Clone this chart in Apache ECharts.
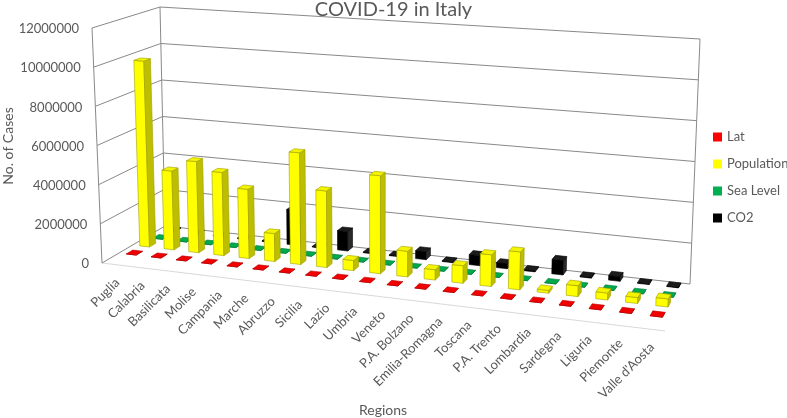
<!DOCTYPE html>
<html><head><meta charset="utf-8">
<script src="https://cdn.jsdelivr.net/npm/echarts/dist/echarts.min.js"></script>
<style>html,body{margin:0;padding:0;background:#fff}#c{width:787px;height:418px}</style>
</head><body><div id="c"></div>
<script>
// ---------------- data ----------------
const regions = ['Puglia','Calabria','Basilicata','Molise','Campania','Marche','Abruzzo','Sicilia','Lazio','Umbria','Veneto','P.A. Bolzano','Emilia-Romagna','Toscana','P.A. Trento','Lombardia','Sardegna','Liguria','Piemonte',"Valle d'Aosta"];
const lat        = [41.1, 38.9, 40.6, 41.6, 40.8, 43.6, 42.4, 38.1, 41.9, 43.1, 45.4, 46.5, 44.5, 43.8, 46.1, 45.5, 39.2, 44.4, 45.1, 45.7];
const population = [9780000, 4120000, 4740000, 4300000, 3560000, 1430000, 5680000, 3870000, 510000, 4900000, 1270000, 510000, 860000, 1550000, 1840000, 130000, 520000, 330000, 280000, 380000];
const seaLevel   = [5, 320, 819, 686, 17, 16, 714, 14, 21, 493, 1, 262, 54, 50, 194, 120, 4, 20, 239, 583];
const co2        = [30000, 30000, 30000, 40000, 40000, 1840000, 30000, 1010000, 40000, 40000, 410000, 40000, 510000, 250000, 60000, 720000, 50000, 230000, 30000, 30000];
const yTicks = [0, 2000000, 4000000, 6000000, 8000000, 10000000, 12000000];
const seriesNames = ['Lat', 'Population', 'Sea Level', 'CO2'];

// ---------------- layout / style ----------------
const floorQuad = [[102,263],[665,331],[690,284],[165,226]]; // front-left, front-right, back-right, back-left
const topQuad   = [[92,28],[675,66],[700,39],[160,7]];
const rowDepth = [0.305, 0.516, 0.727, 0.938];
const barDepth = 0.1;
const barWidthFrac = 0.4;
const palette = [
  {base:'#FF0000', side:'#C00000', top:'#F20000', stroke:'#B00000'},
  {base:'#FFFF00', side:'#BEBE00', top:'#F4F400', stroke:'#A0A000'},
  {base:'#00B050', side:'#00803A', top:'#00A84C', stroke:'#007A38'},
  {base:'#000000', side:'#2A2A2A', top:'#1C1C1C', stroke:'#000000'}
];
const FONT = 'Lato, "Open Sans", sans-serif';
const TXT = '#595959';

function makeH(p0, p1, p2, p3) {
  const dx1 = p1[0]-p2[0], dx2 = p3[0]-p2[0], dx3 = p0[0]-p1[0]+p2[0]-p3[0];
  const dy1 = p1[1]-p2[1], dy2 = p3[1]-p2[1], dy3 = p0[1]-p1[1]+p2[1]-p3[1];
  const den = dx1*dy2 - dx2*dy1;
  const g = (dx3*dy2 - dx2*dy3)/den, h = (dx1*dy3 - dx3*dy1)/den;
  const a = p1[0]-p0[0]+g*p1[0], b = p3[0]-p0[0]+h*p3[0], c = p0[0];
  const d = p1[1]-p0[1]+g*p1[1], e = p3[1]-p0[1]+h*p3[1], f = p0[1];
  return (u, w) => { const z = g*u + h*w + 1; return [(a*u+b*w+c)/z, (d*u+e*w+f)/z]; };
}
const floorH = makeH(...floorQuad), topH = makeH(...topQuad);
function proj(u, w, h) {
  const a = floorH(u, w), b = topH(u, w);
  return [a[0] + (b[0]-a[0])*h, a[1] + (b[1]-a[1])*h];
}
function norm(api, cs, cat, val) {
  const c = api.coord([cat, val]);
  return [(c[0]-cs.x)/cs.width, (cs.y+cs.height-c[1])/cs.height];
}

function barRenderer(row) {
  const col = palette[row];
  return function (params, api) {
    const cs = params.coordSys;
    const i = api.value(0), v = api.value(1);
    const n = norm(api, cs, i, v);
    const du = api.size([1, 0])[0] * barWidthFrac / 2 / cs.width;
    const u0 = n[0]-du, u1 = n[0]+du, h = n[1];
    const w0 = rowDepth[row]-barDepth/2, w1 = rowDepth[row]+barDepth/2;
    const front = [proj(u0,w0,0), proj(u1,w0,0), proj(u1,w0,h), proj(u0,w0,h)];
    const right = [proj(u1,w0,0), proj(u1,w1,0), proj(u1,w1,h), proj(u1,w0,h)];
    const topF  = [proj(u0,w0,h), proj(u1,w0,h), proj(u1,w1,h), proj(u0,w1,h)];
    return {type:'group', children:[
      {type:'polygon', shape:{points:front}, style:{fill:col.base, stroke:col.stroke, lineWidth:0.6}},
      {type:'polygon', shape:{points:right}, style:{fill:col.side, stroke:col.stroke, lineWidth:0.6}},
      {type:'polygon', shape:{points:topF},  style:{fill:col.top,  stroke:col.stroke, lineWidth:0.6}}
    ]};
  };
}

function wallRenderer(params, api) {
  const cs = params.coordSys;
  const ch = [];
  const line = (p, q, color) => ch.push({type:'line', shape:{x1:p[0],y1:p[1],x2:q[0],y2:q[1]}, style:{stroke:color, lineWidth:1}});
  line(proj(0,0,0), proj(1,0,0), '#D9D9D9');
  yTicks.forEach(t => {
    const h = norm(api, cs, 0, t)[1];
    line(proj(0,0,h), proj(0,1,h), '#898989');
    line(proj(0,1,h), proj(1,1,h), '#898989');
    const p = proj(0,0,h);
    ch.push({type:'text', x:p[0]-13, y:p[1]+1, style:{text:String(t), fill:TXT, font:'13px ' + FONT, align:'right', verticalAlign:'middle'}});
  });
  line(proj(0,0,0), proj(0,0,1), '#898989');
  line(proj(0,1,0), proj(0,1,1), '#898989');
  line(proj(1,1,0), proj(1,1,1), '#898989');
  return {type:'group', children:ch};
}

function labelRenderer(params, api) {
  const cs = params.coordSys;
  const i = api.value(0);
  const n = norm(api, cs, i, 0);
  const p = proj(n[0], 0, 0);
  return {type:'text', x:p[0]+3, y:p[1]+16, rotation:Math.PI/4,
    style:{text:regions[i], fill:TXT, font:'13px ' + FONT, align:'right', verticalAlign:'middle'}};
}

const valueSets = [lat, population, seaLevel, co2];
const barSeries = [3, 2, 1, 0].map(k => ({
  type:'custom', name:seriesNames[k], renderItem:barRenderer(k),
  itemStyle:{color:palette[k].base},
  data: valueSets[k].map((v, i) => [i, v]), clip:false
}));

const chart = echarts.init(document.getElementById('c'), null, {renderer:'canvas'});
chart.setOption({
  animation:false,
  backgroundColor:'#ffffff',
  title:{text:'COVID-19 in Italy', left:'center', top:0, padding:0,
    textStyle:{fontFamily:FONT, fontSize:20, fontWeight:'normal', color:TXT}},
  legend:{data:['Lat','Population','Sea Level','CO2'], orient:'vertical', left:708, top:125,
    icon:'rect', itemWidth:9, itemHeight:9, itemGap:13,
    textStyle:{fontFamily:FONT, fontSize:13, color:TXT, lineHeight:14}},
  grid:{left:0, right:0, top:0, bottom:0},
  xAxis:{type:'category', data:regions, show:false},
  yAxis:{type:'value', min:0, max:12000000, interval:2000000, show:false},
  graphic:[
    {type:'text', x:8, y:146, rotation:Math.PI/2, style:{text:'No. of Cases', fill:TXT, font:'14px ' + FONT, align:'center', verticalAlign:'middle'}},
    {type:'text', x:383, y:410, style:{text:'Regions', fill:TXT, font:'14px ' + FONT, align:'center', verticalAlign:'middle'}}
  ],
  series:[
    {type:'custom', name:'walls', renderItem:wallRenderer, data:[[0,0]], clip:false, silent:true},
    ...barSeries,
    {type:'custom', name:'labels', renderItem:labelRenderer, data:regions.map((r,i)=>[i,0]), clip:false, silent:true}
  ]
});
</script></body></html>
